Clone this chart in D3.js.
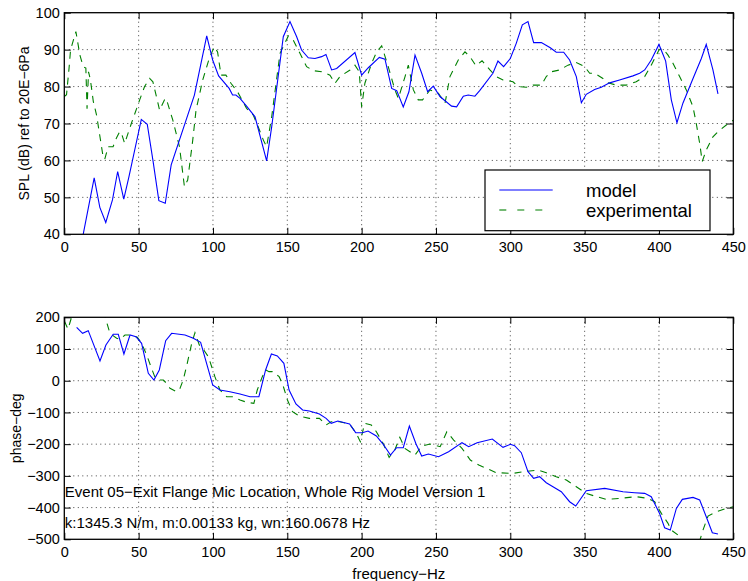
<!DOCTYPE html>
<html>
<head>
<meta charset="utf-8">
<script src="https://cdn.jsdelivr.net/npm/d3@7"></script>
<style>
  html, body { margin: 0; padding: 0; background: #fff; }
  svg { display: block; font-family: "Liberation Sans", Arial, Helvetica, sans-serif; }
  .tick text { fill: #000; }
</style>
</head>
<body>
<svg id="chart" width="748" height="581"></svg>
<script>
// ---- SPL (dB) ----
const splModelFreq = [8.3,12.7,20.1,23.9,27.9,32.4,35.9,40.0,43.5,51.8,55.8,59.6,63.6,67.9,71.9,87.5,95.8,99.8,103.8,110.9,113.2,115.4,118.2,122.6,128.3,136.1,139.5,147.3,151.8,156.3,159.6,164.1,168.6,173.1,176.0,179.8,183.2,195.5,200.0,204.5,211.9,215.7,220.2,223.6,228.0,231.8,235.9,240.4,244.4,248.2,252.7,260.5,263.9,268.4,271.7,276.2,279.4,288.3,291.7,295.5,300,304.0,308.1,311.9,315.7,320.9,326.9,330.9,335.9,339.9,344.4,347.8,351.1,356.7,361.2,366.8,373.5,382.5,387.0,390.4,394.8,400,404.5,408.3,412.1,416.1,422.9,428.5,431.8,436.3,439.7];
const splModel = [31,40,55.3,47.3,43.2,49.3,57.0,49.5,55.6,71.1,69.8,60.1,49.1,48.4,58.8,77.7,93.7,87.2,82.9,79.5,77.7,77.7,76.8,74.7,71.8,59.9,69.1,93.5,97.6,93.5,89.9,87.8,87.6,88.1,88.7,84.5,84.9,89.2,83.1,85.1,87.9,87.4,79.5,78.9,74.5,78.6,88.5,83.6,78.6,80.1,77.3,74.7,74.5,77.4,77.7,77.4,78.9,83.6,86.9,85.4,87.6,91.7,96.7,97.6,91.9,91.9,90.5,89.3,89.3,87.2,82.7,75.6,77.9,79.2,79.8,81.0,81.8,82.9,83.6,84.5,87.2,91.4,86.9,76.4,70.2,75.5,82.2,87.6,91.4,84.5,78.0];

const splExpFreq = [0,1.5,3.2,4.2,7.8,10.5,12.7,14.5,15.3,16.3,17.5,19.5,21.7,26.1,27.2,29.5,32.8,35,37.3,38.4,40.6,45.1,50.7,54.0,57.4,59.6,63.0,64.1,67.4,68.5,73.0,77.5,80.8,83.0,86.4,88.6,93.1,97.5,100.9,103.1,105.4,108.7,112.1,116.5,122.6,127.1,130.4,133.9,136.1,139.5,145.1,150.7,154.0,158.5,163.0,167.5,173.1,178.7,182.1,185.4,192.2,195.5,198.4,200.0,202.2,206.7,210.1,213.5,217.9,222.4,224.7,229.2,231.4,234.8,238.1,241.0,246.0,251.6,256.1,259.4,265.0,269.5,272.9,276.9,281.0,286.3,290.6,295.1,301.8,305.2,310.8,315.2,320.9,324.2,327.6,333.2,338.8,344.4,350.0,353.4,356.7,362.3,365.7,371.3,378.0,384.7,390.4,394.8,400,402.7,406.1,409.4,413.9,418.4,422.9,425.1,427.4,429.1,431.8,436.3,439.7,445.3,450];
const splExp = [77.3,77.8,85,89.9,94.9,88.5,85.4,85.0,74,84,82,76,72.3,61.0,60.3,63.7,63.7,66,67.8,67.4,64.6,70.0,76.4,80.0,82.2,81.3,75.5,73.6,76.4,76.8,70.9,63.7,52.9,54.7,65.5,73.6,81.8,87.6,90.8,89.4,83.1,83.1,80.9,78.6,74.1,72.3,69.1,65.5,63.7,71.8,89.0,93.7,92.6,89.0,85.4,84.3,84.0,83.1,80.9,82.7,84.5,85.8,84.0,74.5,80.9,86.3,89.4,91.0,85.4,79.1,76.8,82.7,85.8,79.1,76.4,76.4,79.1,78.2,75.5,82.7,87.2,89.4,88.1,85.6,87.0,84.5,82.7,81.8,81.3,80.0,79.8,80.4,80.4,82.7,84.0,84.5,85.8,86.5,85.4,83.6,83.6,82.2,81.0,80.4,80.4,81.3,82.7,85.8,89.9,90.3,88.5,86.3,82.7,79.1,74.5,70.0,64.6,59.7,62.8,66.4,67.8,69.6,70.9];

// ---- Phase (deg) ----
const phaseModelFreq = [8.3,12.3,16.1,24.0,28.0,32.9,36.3,40.1,44.2,48.2,52.0,56.5,60.3,63.9,68.2,72.2,81.2,86.8,91.7,99.8,104.7,111.4,118.2,124.9,130.9,135.4,139.3,143.3,147.7,151.2,155.8,160.3,164.8,171.6,176.1,179.5,184.0,191.9,196.0,200.5,204.3,209.9,214.4,219.4,223.5,228.0,232.1,236.6,240.4,244.9,251.7,258.5,267.5,272.0,277.7,287.9,295.1,300,302.9,307.4,311.9,315.7,319.7,324.2,328.7,334.3,339.9,344.0,351.1,363.5,375.8,383.6,390.4,394.8,400.4,403.8,407.6,411.7,415.7,422.9,427.4,431.8,435.9,439.7];
const phaseModel = [168.5,149.5,157.9,62.3,112.7,146.4,146.4,84.3,144.3,139.0,118.0,23.3,2.3,33.9,126.4,149.5,144.3,133.8,121.1,-13.5,-29.2,-34.5,-41.9,-50.3,-50.3,33.9,84.3,78.0,54.9,-29.2,-73.4,-92.3,-95.5,-105,-118.6,-134.4,-127,-136.5,-163.8,-163.8,-158.6,-174.3,-199.6,-234.3,-211.1,-211.1,-142.8,-199.6,-237.4,-231.1,-239.5,-223.7,-195.3,-208,-195.3,-183.8,-210,-200.6,-204.8,-226.9,-286.9,-307.9,-302.6,-321.6,-334.2,-349.9,-381.5,-395.2,-346.8,-339.4,-349.9,-353.1,-355.2,-365.7,-418.3,-463.5,-470.9,-402.5,-374.1,-367.8,-376.2,-428.8,-479.3,-483.5];

const phaseExpFreq = [0,2.5,5.5,10,20,26,27.5,30.7,35.2,37.4,40.8,45.3,49.1,52,55.4,58.7,61.0,63.2,66.6,68.8,71.1,75.6,77.8,80.0,82.7,85.7,87.9,90.8,93.5,96.9,101.3,104.7,109.2,113.7,118.2,121.5,124.2,127.5,129.8,133.2,135.4,137.7,140,144.5,146.7,150.1,153.5,158.0,164.8,171.6,176.1,179.5,185.1,191.9,196.4,199.1,202.0,206.5,209.9,214.4,218.5,222.3,225.7,229.1,235.9,240.4,246.0,252.8,257.3,261.9,267.5,273.1,278.8,283.9,290.6,301.8,308.5,318.6,324.2,330.9,337.7,344.4,351.1,356.7,364.6,373.5,384.7,392.6,397.1,401.6,406.1,408.3,412.8,416.1,420,425,427.4,429.6,433.0,438.6,445.3,450];
const phaseExp = [188,163,210,240,250,225,200,149.5,133.8,130.6,144.3,144.3,136.9,118,81.2,39.1,10.7,2.3,2.3,-8.2,-24,-34.5,-24,2.3,54.9,118,151.6,112.7,99.0,75.9,12.8,-29.2,-50.3,-50.3,-60.8,-66,-69.2,-71.3,-29.2,12.8,33.9,28.6,28.6,12.8,-8.2,-60.8,-97.6,-111.3,-118.6,-118.6,-139.7,-129.2,-129.2,-136.5,-166,-192.2,-134.4,-139.7,-160.7,-197.5,-241.6,-218.5,-178.5,-213.2,-234.3,-205.9,-199.6,-208,-160.7,-187,-213.2,-250,-265.8,-276.3,-290,-292.1,-286.9,-281.6,-290,-302.6,-313.1,-334.2,-355.2,-363.6,-374.1,-370.9,-365.7,-371,-381.5,-418.3,-449.8,-470.9,-486.7,-505,-530,-530,-505,-470.9,-426.7,-413.0,-402.5,-397.3];

// ---- Axis ticks and labels ----
const freqTicks = [0,50,100,150,200,250,300,350,400,450];
const splTicks = [40,50,60,70,80,90,100];
const phaseTicks = [-500,-400,-300,-200,-100,0,100,200];
const seriesNames = ["model", "experimental"];
const noteLines = [
  "Event 05\u2212Exit Flange Mic Location, Whole Rig Model Version 1",
  "k:1345.3 N/m, m:0.00133 kg, wn:160.0678 Hz"
];

const svg = d3.select("#chart");
const left = 64.3, right = 733.3;
const FONT = 14.5;
const modelColor = "#0000ff", expColor = "#008000";

const x = d3.scaleLinear().domain([0, 450]).range([left, right]);

function panel(id, yDomain, top, bottom, yTicks, yLabel, labelX, modelF, modelV, expF, expV) {
  const y = d3.scaleLinear().domain(yDomain).range([bottom, top]);
  const g = svg.append("g");

  g.append("clipPath").attr("id", id)
    .append("rect").attr("x", left).attr("y", top)
    .attr("width", right - left).attr("height", bottom - top);

  // dotted grid
  const grid = g.append("g").attr("stroke", "#444").attr("stroke-width", 1)
    .attr("stroke-dasharray", "1 3.5").attr("fill", "none");
  freqTicks.slice(1, -1).forEach(t => grid.append("line")
    .attr("x1", x(t)).attr("x2", x(t)).attr("y1", top).attr("y2", bottom));
  yTicks.slice(1, -1).forEach(t => grid.append("line")
    .attr("x1", left).attr("x2", right).attr("y1", y(t)).attr("y2", y(t)));

  // data lines
  const line = d3.line().x(d => x(d[0])).y(d => y(d[1]));
  const lines = g.append("g").attr("clip-path", `url(#${id})`).attr("fill", "none");
  lines.append("path").datum(d3.zip(expF, expV)).attr("d", line)
    .attr("stroke", expColor).attr("stroke-width", 1.1).attr("stroke-dasharray", "7 6");
  lines.append("path").datum(d3.zip(modelF, modelV)).attr("d", line)
    .attr("stroke", modelColor).attr("stroke-width", 1.1);

  // axes with inward ticks on every side
  const tk = 6.5;
  const axB = g.append("g").attr("transform", `translate(0,${bottom})`)
    .call(d3.axisBottom(x).tickValues(freqTicks).tickSizeInner(-tk).tickSizeOuter(0).tickPadding(7.8));
  const axT = g.append("g").attr("transform", `translate(0,${top})`)
    .call(d3.axisTop(x).tickValues(freqTicks).tickSizeInner(-tk).tickSizeOuter(0).tickFormat(""));
  const axL = g.append("g").attr("transform", `translate(${left},0)`)
    .call(d3.axisLeft(y).tickValues(yTicks).tickSizeInner(-tk).tickSizeOuter(0).tickPadding(4.5)
      .tickFormat(d => d < 0 ? "\u2212" + Math.abs(d) : String(d)));
  const axR = g.append("g").attr("transform", `translate(${right},0)`)
    .call(d3.axisRight(y).tickValues(yTicks).tickSizeInner(-tk).tickSizeOuter(0).tickFormat(""));
  [axB, axT, axL, axR].forEach(a => {
    a.select(".domain").remove();
    a.selectAll("line").attr("stroke", "#000").attr("stroke-width", 1);
    a.selectAll("text").attr("font-size", FONT).attr("font-family", null);
    a.attr("font-family", null).attr("font-size", null);
  });

  g.append("rect").attr("x", left).attr("y", top)
    .attr("width", right - left).attr("height", bottom - top)
    .attr("fill", "none").attr("stroke", "#000").attr("stroke-width", 1.3);

  g.append("text")
    .attr("transform", `translate(${labelX},${(top + bottom) / 2}) rotate(-90)`)
    .attr("text-anchor", "middle").attr("font-size", 14).text(yLabel);

  return y;
}

const ySpl = panel("clipSpl", [40, 100], 12.7, 234.3, splTicks, "SPL (dB) ref to 20E\u22126Pa", 29,
  splModelFreq, splModel, splExpFreq, splExp);
const yPhase = panel("clipPhase", [-500, 200], 317.3, 539.3, phaseTicks, "phase\u2212deg", 20.5,
  phaseModelFreq, phaseModel, phaseExpFreq, phaseExp);

// legend
const lg = svg.append("g");
lg.append("rect").attr("x", 485).attr("y", 170).attr("width", 225).attr("height", 60.7)
  .attr("fill", "#fff").attr("stroke", "#000").attr("stroke-width", 1.2);
[[modelColor, null, 190], [expColor, "7 11", 210]].forEach((s, i) => {
  lg.append("line").attr("x1", 499.3).attr("x2", 552.7).attr("y1", s[2]).attr("y2", s[2])
    .attr("stroke", s[0]).attr("stroke-width", 1.1).attr("stroke-dasharray", s[1]);
  lg.append("text").attr("x", 586).attr("y", s[2] + 6.6).attr("font-size", 18.5).text(seriesNames[i]);
});

// annotation lines placed in phase-axis data coordinates
svg.append("text").attr("x", x(0) + 0.5).attr("y", yPhase(-366)).attr("font-size", 15).text(noteLines[0]);
svg.append("text").attr("x", x(0) + 0.5).attr("y", yPhase(-465.5)).attr("font-size", 15).text(noteLines[1]);

// x-axis title
svg.append("text").attr("x", (left + right) / 2).attr("y", 578.5)
  .attr("text-anchor", "middle").attr("font-size", 15).text("frequency\u2212Hz");
</script>
</body>
</html>
